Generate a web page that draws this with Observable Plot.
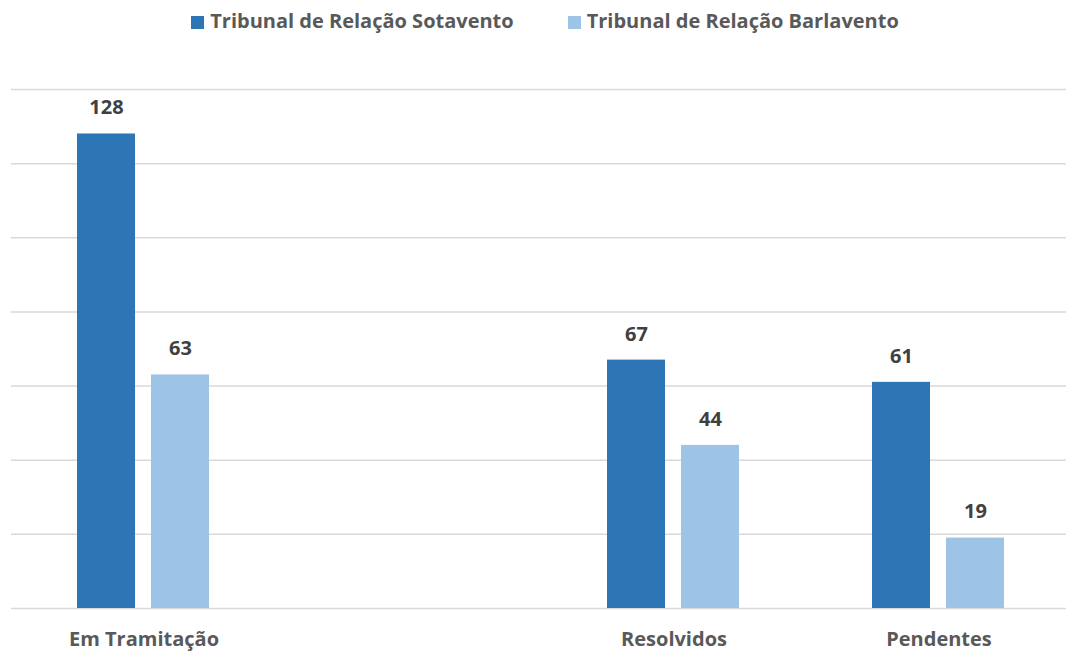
<!DOCTYPE html>
<html><head><meta charset="utf-8">
<script src="https://cdn.jsdelivr.net/npm/d3@7"></script>
<script src="https://cdn.jsdelivr.net/npm/@observablehq/plot@0.6"></script>
<style>
html,body{margin:0;padding:0;background:#fff;overflow:hidden;}
#legend{height:40px;display:flex;justify-content:center;align-items:center;gap:54px;font-family:"Open Sans",sans-serif;font-weight:bold;font-size:20px;color:#595959;padding-left:24px;}
#legend span.sw{display:inline-block;width:13px;height:13px;margin-right:6px;vertical-align:-1px;}
</style></head>
<body>
<div id="legend"></div>
<div id="chart"></div>
<script>
const categories = ["Em Tramitação", " ", "Resolvidos", "Pendentes"];
const series = ["Tribunal de Relação Sotavento", "Tribunal de Relação Barlavento"];
const sotavento = [128, null, 67, 61];
const barlavento = [63, null, 44, 19];
const colors = ["#2E75B6", "#9DC3E6"];
const yTicks = [0, 20, 40, 60, 80, 100, 120, 140];

const data = [];
categories.forEach((c, i) => {
  if (sotavento[i] != null) data.push({cat: c, s: series[0], v: sotavento[i]});
  if (barlavento[i] != null) data.push({cat: c, s: series[1], v: barlavento[i]});
});
const grid = categories.flatMap(c => yTicks.map(t => ({cat: c, t})));

const legend = document.getElementById("legend");
series.forEach((s, i) => {
  const d = document.createElement("div");
  d.innerHTML = `<span class="sw" style="background:${colors[i]}"></span>${s}`;
  legend.appendChild(d);
});

const chart = Plot.plot({
  width: 1066,
  height: 613,
  marginTop: 49,
  marginBottom: 45,
  marginLeft: 10,
  marginRight: -6,
  style: {fontFamily: "'Open Sans', sans-serif", background: "#fff", overflow: "visible"},
  fx: {domain: categories, padding: 0, label: null, axis: null},
  x: {domain: series, paddingInner: 0.2133, paddingOuter: 0.877, axis: null},
  y: {domain: [0, 140], axis: null},
  color: {domain: series, range: colors},
  marks: [
    Plot.ruleY(grid, {fx: "cat", y: "t", stroke: "#d9d9d9", strokeWidth: 1.5}),
    Plot.barY(data, {fx: "cat", x: "s", y: "v", fill: "s"}),
    Plot.text(data, {fx: "cat", x: "s", y: "v", text: d => String(d.v), dy: -26, fill: "#404040", fontSize: 20, fontWeight: "bold"}),
    Plot.text(categories.filter(c => c.trim() !== ""), {fx: d => d, frameAnchor: "bottom", dy: 37, text: d => d, fill: "#595959", fontSize: 20, fontWeight: "bold"})
  ]
});
document.getElementById("chart").appendChild(chart);
</script>
</body></html>
